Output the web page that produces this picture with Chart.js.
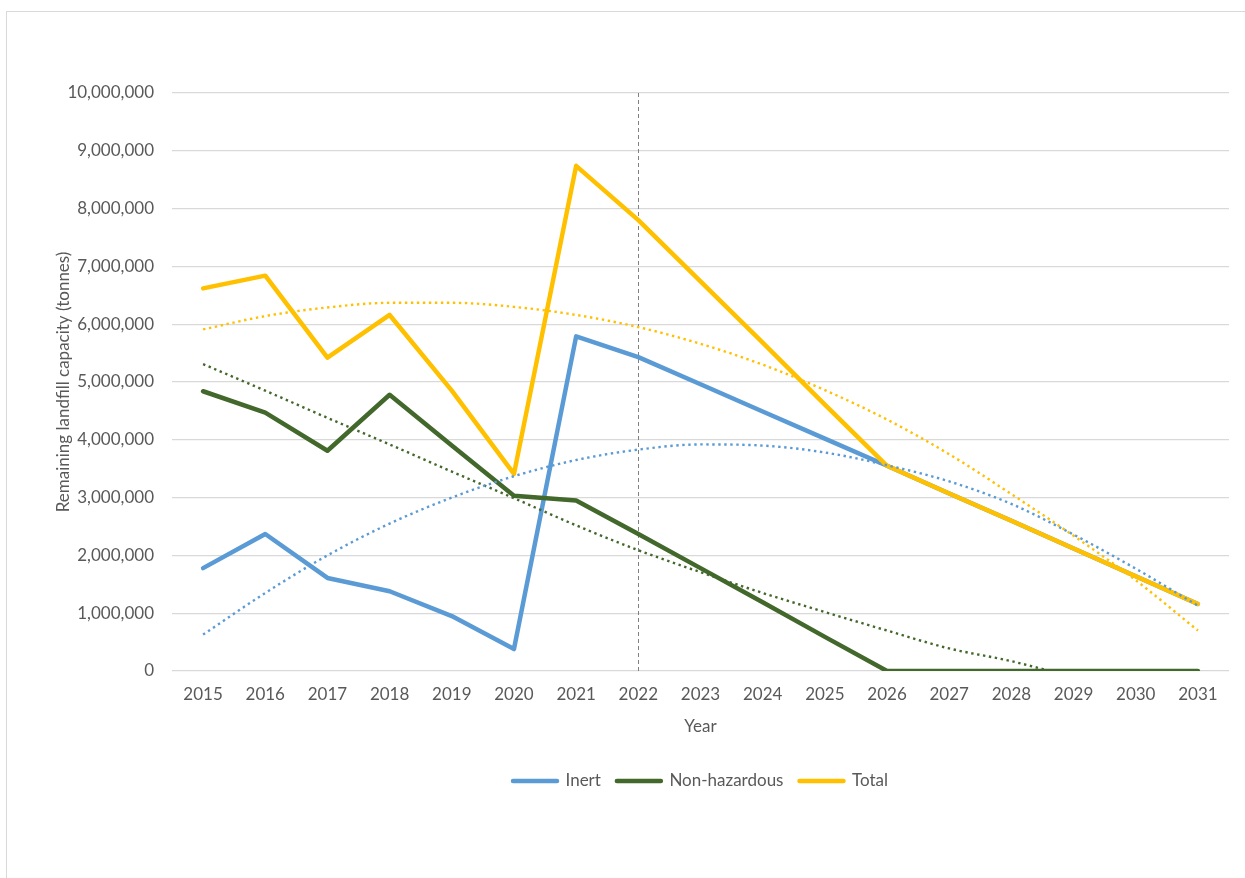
<!DOCTYPE html>
<html lang="en">
<head>
    <meta charset="UTF-8">
    <title>Remaining landfill capacity</title>
    <script src="https://cdn.jsdelivr.net/npm/chart.js"></script>
    <style>
        html, body { margin: 0; padding: 0; background: #fff; overflow: hidden; }
        .frame {
            position: absolute;
            left: 6px;
            top: 11px;
            width: 1400px;
            height: 1000px;
            border: 1.5px solid #d9d9d9;
        }
        #chart { position: absolute; left: 0; top: 0; }
    </style>
</head>
<body>
    <div class="frame"></div>
    <canvas id="chart" width="1245" height="878"></canvas>

    <script>
        // values (tonnes)
        const years = ['2015', '2016', '2017', '2018', '2019', '2020', '2021', '2022', '2023',
                       '2024', '2025', '2026', '2027', '2028', '2029', '2030', '2031'];

        const inert = [1780000, 2370000, 1610000, 1380000, 950000, 380000, 5790000, 5430000, 4960000,
                       4490000, 4020000, 3550000, 3070000, 2600000, 2120000, 1640000, 1160000];
        const nonHazardous = [4840000, 4470000, 3810000, 4780000, 3900000, 3030000, 2950000, 2370000, 1780000,
                              1190000, 590000, 0, 0, 0, 0, 0, 0];
        const total = [6620000, 6840000, 5420000, 6160000, 4850000, 3410000, 8740000, 7800000, 6740000,
                       5680000, 4610000, 3550000, 3070000, 2600000, 2120000, 1640000, 1160000];

        // dotted trend lines
        const inertTrend = [630000, 1350000, 2000000, 2550000, 3000000, 3370000, 3650000, 3830000, 3920000,
                            3900000, 3780000, 3560000, 3280000, 2890000, 2360000, 1770000, 1130000];
        const nonHazTrend = [5310000, 4850000, 4380000, 3920000, 3450000, 2990000, 2520000, 2090000, 1710000,
                             1350000, 1020000, 700000, 390000, 170000, -110000, null, null];
        const totalTrend = [5910000, 6140000, 6290000, 6370000, 6370000, 6300000, 6160000, 5950000, 5660000,
                            5300000, 4860000, 4350000, 3750000, 3060000, 2340000, 1570000, 700000];

        const markerYear = '2022';

        const BLUE = '#5B9BD5';
        const GREEN = '#43682B';
        const GOLD = '#FFC000';
        const TEXT = '#595959';
        const FONT = 'Lato';

        const mainLine = (label, data, color, order) => ({
            label, data, order,
            borderColor: color,
            backgroundColor: color,
            borderWidth: 4.5,
            borderJoinStyle: 'round',
            borderCapStyle: 'round',
            pointRadius: 0,
            tension: 0,
        });

        const trendLine = (label, data, color) => ({
            label, data, order: 0,
            borderColor: color,
            borderWidth: 2.4,
            borderDash: [2.4, 3.6],
            pointRadius: 0,
            cubicInterpolationMode: 'monotone',
            spanGaps: false,
        });

        const markerLine = {
            id: 'markerLine',
            beforeDatasetsDraw(chart) {
                const { ctx, chartArea, scales } = chart;
                const x = Math.round(scales.x.getPixelForValue(years.indexOf(markerYear))) + 0.5;
                ctx.save();
                ctx.strokeStyle = '#808080';
                ctx.lineWidth = 1;
                ctx.setLineDash([4, 3]);
                ctx.beginPath();
                ctx.moveTo(x, chartArea.top);
                ctx.lineTo(x, chartArea.bottom + 3);
                ctx.stroke();
                ctx.restore();
            }
        };

        new Chart(document.getElementById('chart'), {
            type: 'line',
            data: {
                labels: years,
                datasets: [
                    mainLine('Inert', inert, BLUE, 3),
                    mainLine('Non-hazardous', nonHazardous, GREEN, 2),
                    mainLine('Total', total, GOLD, 1),
                    trendLine('Inert trend', inertTrend, BLUE),
                    trendLine('Non-hazardous trend', nonHazTrend, GREEN),
                    trendLine('Total trend', totalTrend, GOLD),
                ],
            },
            plugins: [markerLine],
            options: {
                responsive: false,
                animation: false,
                layout: { padding: { left: 0, top: 93, right: 16, bottom: 78.5 } },
                plugins: {
                    tooltip: { enabled: false },
                    legend: {
                        position: 'bottom',
                        fullSize: false,
                        labels: {
                            color: TEXT,
                            font: { family: FONT, size: 17 },
                            padding: 16,
                            usePointStyle: true,
                            pointStyleWidth: 44,
                            boxHeight: 17,
                            generateLabels: (chart) => chart.data.datasets.slice(0, 3).map((ds, i) => ({
                                text: ds.label,
                                datasetIndex: i,
                                pointStyle: 'line',
                                strokeStyle: ds.borderColor,
                                fillStyle: ds.borderColor,
                                lineWidth: 4.5,
                                lineCap: 'round',
                                fontColor: TEXT,
                            })),
                        },
                    },
                },
                scales: {
                    x: {
                        offset: true,
                        grid: { display: false },
                        border: { display: false },
                        ticks: {
                            color: TEXT,
                            font: { family: FONT, size: 17 },
                            padding: 5,
                            maxRotation: 0,
                            autoSkip: false,
                        },
                        title: {
                            display: true,
                            text: 'Year',
                            color: TEXT,
                            font: { family: FONT, size: 17 },
                            padding: { top: 0, bottom: 20 },
                        },
                        afterFit: (scale) => { scale.height = 85.5; },
                    },
                    y: {
                        min: 0,
                        max: 10000000,
                        grid: { color: '#d9d9d9', lineWidth: 1.3, drawTicks: false },
                        border: { display: false },
                        ticks: {
                            stepSize: 1000000,
                            color: TEXT,
                            font: { family: FONT, size: 17 },
                            padding: 18,
                            callback: (v) => v.toLocaleString('en-US'),
                        },
                        title: {
                            display: true,
                            text: 'Remaining landfill capacity (tonnes)',
                            color: TEXT,
                            font: { family: FONT, size: 17 },
                            padding: { top: 53, bottom: 0 },
                        },
                        afterFit: (scale) => { scale.width = 172; },
                    },
                },
            },
        });
    </script>
</body>
</html>
